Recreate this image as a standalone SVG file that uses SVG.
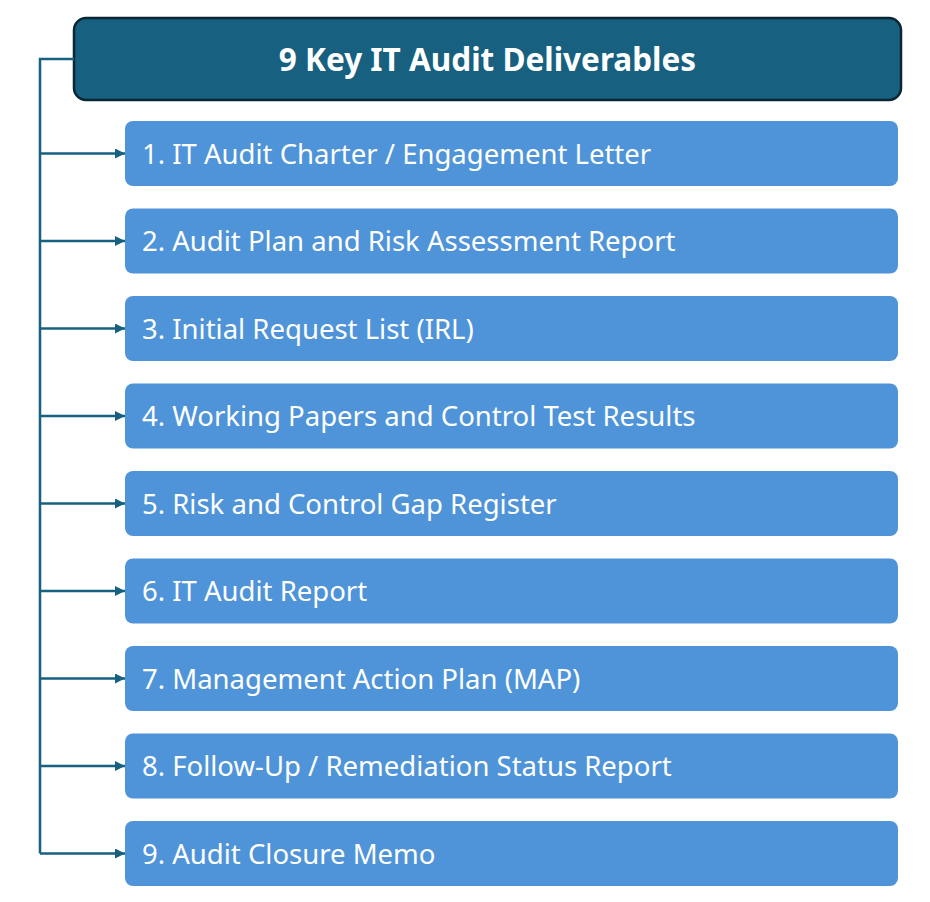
<svg xmlns="http://www.w3.org/2000/svg" width="930" height="902" viewBox="0 0 930 902">
<defs>
<marker id="ah" viewBox="0 0 10 10" refX="10" refY="5" markerWidth="11" markerHeight="10" markerUnits="userSpaceOnUse" orient="auto">
<path d="M0,0 L10,5 L0,10 z" fill="#17607f"/>
</marker>
<style>
.item rect{fill:#4f94d8;}
.item text{fill:#ffffff;font-family:"Segoe UI","Noto Sans",sans-serif;font-size:27.5px;dominant-baseline:central;}
.conn{stroke:#17607f;stroke-width:2.5;fill:none;}
</style>
</defs>
<rect width="930" height="902" fill="#ffffff"/>
<g id="title">
<rect x="74" y="18" width="827" height="82" rx="12" fill="#17607f" stroke="#0b2635" stroke-width="2.5"/>
<text x="487.5" y="58" text-anchor="middle" dominant-baseline="central" fill="#ffffff" font-family="'Segoe UI','Noto Sans',sans-serif" font-size="31.5" font-weight="bold">9 Key IT Audit Deliverables</text>
</g>
<g id="connectors">
<path class="conn" d="M74,59 H40 V853.5"/>
<path class="conn" d="M40,153.5 H125" marker-end="url(#ah)"/>
<path class="conn" d="M40,241 H125" marker-end="url(#ah)"/>
<path class="conn" d="M40,328.5 H125" marker-end="url(#ah)"/>
<path class="conn" d="M40,416 H125" marker-end="url(#ah)"/>
<path class="conn" d="M40,503.5 H125" marker-end="url(#ah)"/>
<path class="conn" d="M40,591 H125" marker-end="url(#ah)"/>
<path class="conn" d="M40,678.5 H125" marker-end="url(#ah)"/>
<path class="conn" d="M40,766 H125" marker-end="url(#ah)"/>
<path class="conn" d="M40,853.5 H125" marker-end="url(#ah)"/>
</g>
<g id="item1" class="item"><rect x="125" y="121" width="773" height="65" rx="8"/><text x="142" y="153">1. IT Audit Charter / Engagement Letter</text></g>
<g id="item2" class="item"><rect x="125" y="208.5" width="773" height="65" rx="8"/><text x="142" y="240.5">2. Audit Plan and Risk Assessment Report</text></g>
<g id="item3" class="item"><rect x="125" y="296" width="773" height="65" rx="8"/><text x="142" y="328">3. Initial Request List (IRL)</text></g>
<g id="item4" class="item"><rect x="125" y="383.5" width="773" height="65" rx="8"/><text x="142" y="415.5">4. Working Papers and Control Test Results</text></g>
<g id="item5" class="item"><rect x="125" y="471" width="773" height="65" rx="8"/><text x="142" y="503">5. Risk and Control Gap Register</text></g>
<g id="item6" class="item"><rect x="125" y="558.5" width="773" height="65" rx="8"/><text x="142" y="590.5">6. IT Audit Report</text></g>
<g id="item7" class="item"><rect x="125" y="646" width="773" height="65" rx="8"/><text x="142" y="678">7. Management Action Plan (MAP)</text></g>
<g id="item8" class="item"><rect x="125" y="733.5" width="773" height="65" rx="8"/><text x="142" y="765.5">8. Follow-Up / Remediation Status Report</text></g>
<g id="item9" class="item"><rect x="125" y="821" width="773" height="65" rx="8"/><text x="142" y="853">9. Audit Closure Memo</text></g>
</svg>
